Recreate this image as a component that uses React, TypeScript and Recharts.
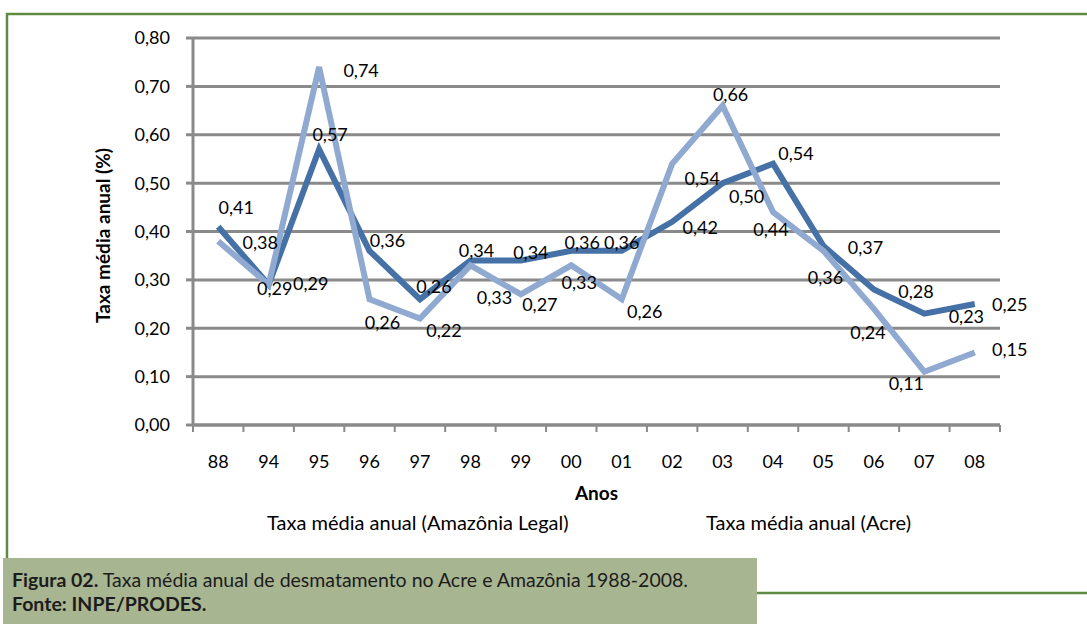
import React from 'react';
import { LineChart, Line, XAxis, YAxis, CartesianGrid, LabelList, Legend } from 'recharts';

// anos (1988, 1994-2008)
const years = ['88', '94', '95', '96', '97', '98', '99', '00', '01', '02', '03', '04', '05', '06', '07', '08'];
const amazoniaLegal = [0.41, 0.29, 0.57, 0.36, 0.26, 0.34, 0.34, 0.36, 0.36, 0.42, 0.5, 0.54, 0.37, 0.28, 0.23, 0.25];
const acre = [0.38, 0.29, 0.74, 0.26, 0.22, 0.33, 0.27, 0.33, 0.26, 0.54, 0.66, 0.44, 0.36, 0.24, 0.11, 0.15];
const yTicks = [0, 0.1, 0.2, 0.3, 0.4, 0.5, 0.6, 0.7, 0.8];
const seriesNames = ['Taxa média anual (Amazônia Legal)', 'Taxa média anual (Acre)'];

// the data labels were dragged around by hand in the original, so each one gets a nudge
const legalLabelShift = [
  [18, -19], [42, -1], [11, -14], [18, -10], [14, -12], [6, -10], [10, -8], [11, -8],
  [0, -8], [28, 6], [24, 14], [23, -10], [42, 2], [42, 2], [42, 3], [35, 1],
];
const acreLabelShift = [
  [42, 2], [6, 4], [42, 4], [13, 24], [24, 12], [24, 33], [19, 11], [8, 18],
  [23, 13], [30, 15], [8, -11], [-2, 18], [2, 27], [-6, 24], [-18, 12], [35, -2],
];

const W = 1087;
const H = 624;
const PLOT_LEFT = 193;
const PLOT_RIGHT = 1000;
const PLOT_TOP = 38;
const PLOT_BOTTOM = 425;
const Y_AXIS_W = 60;
const X_AXIS_H = 60;
const BAND = (PLOT_RIGHT - PLOT_LEFT) / years.length;

const GRID = '#8a8a8a';
const DARK = '#4571a6';
const LIGHT = '#8fa9d0';
const FONT = 'Lato, "Open Sans", sans-serif';

const data = years.map((ano, i) => ({ ano, legal: amazoniaLegal[i], acre: acre[i] }));

const fmt = (v: number) => v.toFixed(2).replace('.', ',');

const YearTick = (props: any) => {
  const { x, y, payload, index } = props;
  const left = x - BAND / 2;
  return (
    <g>
      <line x1={left} x2={left} y1={y} y2={y + 7} stroke={GRID} strokeWidth={2} />
      {index === years.length - 1 && (
        <line x1={x + BAND / 2} x2={x + BAND / 2} y1={y} y2={y + 7} stroke={GRID} strokeWidth={2} />
      )}
      <text x={x} y={y + 43} textAnchor="middle" fontSize={18} fill="#000" fontFamily={FONT}>
        {payload.value}
      </text>
    </g>
  );
};

const makeLabel = (shift: number[][]) => (props: any) => {
  const { x, y, value, index } = props;
  const [dx, dy] = shift[index] || [0, -10];
  return (
    <text x={x + dx} y={y + dy + 6} textAnchor="middle" fontSize={18} fill="#000" fontFamily={FONT}>
      {fmt(value)}
    </text>
  );
};

const LegendText = () => (
  <div style={{ position: 'relative', width: W, height: 26, fontFamily: FONT, fontSize: 20, color: '#000' }}>
    <span style={{ position: 'absolute', left: 267, top: 0 }}>{seriesNames[0]}</span>
    <span style={{ position: 'absolute', left: 706, top: 0 }}>{seriesNames[1]}</span>
  </div>
);

export default function App() {
  return (
    <div style={{ position: 'absolute', left: 0, top: 0, width: W, height: H, background: '#fff', overflow: 'hidden' }}>
      <svg width={W} height={H} style={{ position: 'absolute', left: 0, top: 0 }}>
        <line x1={6} x2={W} y1={14} y2={14} stroke="#5f8a42" strokeWidth={2.5} />
        <line x1={7} x2={7} y1={13} y2={594} stroke="#5f8a42" strokeWidth={2.5} />
        <line x1={757} x2={W} y1={593} y2={593} stroke="#5f8a42" strokeWidth={2.5} />
      </svg>
      <LineChart
        width={W}
        height={H}
        data={data}
        style={{ position: 'absolute', left: 0, top: 0 }}
        margin={{
          top: PLOT_TOP,
          right: W - PLOT_RIGHT,
          left: PLOT_LEFT - Y_AXIS_W,
          bottom: H - PLOT_BOTTOM - X_AXIS_H,
        }}
      >
        <CartesianGrid vertical={false} stroke={GRID} strokeWidth={3} />
        <XAxis
          dataKey="ano"
          scale="band"
          height={X_AXIS_H}
          axisLine={{ stroke: GRID, strokeWidth: 3 }}
          tickLine={false}
          tickSize={0}
          tickMargin={0}
          interval={0}
          tick={<YearTick />}
          label={{
            content: (p: any) => (
              <text
                x={p.viewBox.x + p.viewBox.width / 2}
                y={p.viewBox.y + 75}
                textAnchor="middle"
                fontSize={19}
                fontWeight="bold"
                fontFamily={FONT}
                fill="#000"
              >
                Anos
              </text>
            ),
          }}
        />
        <YAxis
          width={Y_AXIS_W}
          domain={[0, 0.8]}
          ticks={yTicks}
          interval={0}
          tickFormatter={fmt}
          axisLine={{ stroke: GRID, strokeWidth: 3 }}
          tickLine={{ stroke: GRID, strokeWidth: 3 }}
          tickSize={7}
          tickMargin={16}
          tick={{ fill: '#000', fontSize: 18, fontFamily: FONT }}
          label={{
            content: (p: any) => {
              const cx = p.viewBox.x - 31;
              const cy = p.viewBox.y + p.viewBox.height / 2 + 4;
              return (
                <text
                  x={cx}
                  y={cy}
                  transform={`rotate(-90 ${cx} ${cy})`}
                  textAnchor="middle"
                  dominantBaseline="central"
                  fontSize={19}
                  fontWeight="bold"
                  fontFamily={FONT}
                  fill="#000"
                >
                  Taxa média anual (%)
                </text>
              );
            },
          }}
        />
        <Legend
          layout="horizontal"
          verticalAlign="middle"
          align="center"
          content={<LegendText />}
          wrapperStyle={{ left: 0, top: 510, width: W }}
        />
        <Line
          type="linear"
          dataKey="legal"
          name={seriesNames[0]}
          stroke={DARK}
          strokeWidth={6}
          dot={false}
          activeDot={false}
          isAnimationActive={false}
        >
          <LabelList dataKey="legal" content={makeLabel(legalLabelShift)} />
        </Line>
        <Line
          type="linear"
          dataKey="acre"
          name={seriesNames[1]}
          stroke={LIGHT}
          strokeWidth={6}
          dot={false}
          activeDot={false}
          isAnimationActive={false}
        >
          <LabelList dataKey="acre" content={makeLabel(acreLabelShift)} />
        </Line>
      </LineChart>
      <div
        style={{
          position: 'absolute',
          left: 3,
          top: 558,
          width: 754,
          height: 66,
          background: '#a8b591',
          fontFamily: FONT,
          color: '#1c1c1c',
          fontSize: 19.5,
          lineHeight: '23.5px',
          padding: '10px 0 0 9px',
          boxSizing: 'border-box',
        }}
      >
        <div>
          <b>Figura 02.</b> Taxa média anual de desmatamento no Acre e Amazônia 1988-2008.
        </div>
        <div>
          <b>Fonte: INPE/PRODES.</b>
        </div>
      </div>
    </div>
  );
}
